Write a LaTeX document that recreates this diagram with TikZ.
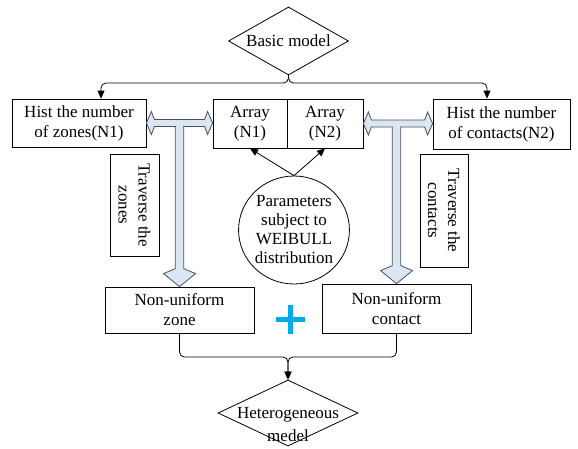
\documentclass[tikz,border=0pt]{standalone}
\usepackage{fontspec}
\setmainfont{Liberation Serif}
\usetikzlibrary{shapes.geometric,arrows.meta,calc}
\definecolor{arrfill}{RGB}{220,230,242}
\definecolor{arrline}{RGB}{70,80,95}
\definecolor{plusblue}{RGB}{0,170,235}
\begin{document}
\begin{tikzpicture}[x=1pt,y=-1pt,
  box/.style={draw, line width=0.8pt, inner sep=0pt, align=center, font=\fontsize{17}{20}\selectfont},
  dia/.style={draw, shape=diamond, line width=0.8pt, inner sep=0pt},
  txt/.style={inner sep=0pt, align=center, font=\fontsize{17}{20}\selectfont},
  conn/.style={draw, line width=0.8pt, rounded corners=5pt},
  tip/.style={-{Triangle[length=8pt,width=7pt]}},
  hollow/.style={fill=arrfill, draw=arrline, line width=0.8pt, line join=miter}]
\useasboundingbox (0,0) rectangle (578,448);
\clip (0,0) rectangle (578,448);

% nodes
\node[dia, minimum width=120pt, minimum height=68pt] (basic) at (288.5,41) {};
\node[txt] (basictxt) at (basic) {Basic model};
\node[box, minimum width=134pt, minimum height=48pt] (lbox) at (79,123) {Hist the number\\of zones(N1)};
\node[box, minimum width=74pt, minimum height=49pt] (arr1) at (250,123.5) {Array\\(N1)};
\node[box, minimum width=76pt, minimum height=49pt] (arr2) at (325,123.5) {Array\\(N2)};
\node[box, minimum width=137pt, minimum height=50pt] (rbox) at (501.5,124) {Hist the number\\of contacts(N2)};
\node[box, rotate=-90, minimum width=102pt, minimum height=49pt] (trz) at (134.5,205) {Traverse the\\zones};
\node[box, rotate=-90, minimum width=113pt, minimum height=48pt] (trc) at (444,210.5) {Traverse the\\contacts};
\node[box, shape=ellipse, minimum width=102pt, minimum height=108pt, font=\fontsize{17}{19}\selectfont] (circ) at (294,230) {Parameters\\subject to\\WEIBULL\\distribution};
\node[box, minimum width=149pt, minimum height=46pt] (zone) at (179.5,310) {Non-uniform\\zone};
\node[box, minimum width=149pt, minimum height=49pt] (contact) at (396.5,308.5) {Non-uniform\\contact};
\node[dia, minimum width=140pt, minimum height=66pt] (het) at (288,413) {};
\node[txt, font=\fontsize{17}{23}\selectfont] (hettxt) at (288,425) {Heterogeneous\\medel};
\coordinate (plus) at (290,319);

% top connectors
\coordinate (cl) at (101,83);
\coordinate (cr) at (487,83);
\draw[conn, tip] (basic.south) |- (cl) -- (cl |- lbox.north);
\draw[conn, tip] (basic.south) |- (cr) -- (cr |- rbox.north);

% bottom connectors
\coordinate (cb) at (288,357);
\draw[conn, tip] (zone.south) |- (cb) -- (het.north);
\draw[conn, tip] (contact.south) |- (cb) -- (het.north);

% circle arrows
\draw[line width=0.8pt, tip] (circ.north) -- (arr1.south);
\draw[line width=0.8pt, tip] (circ.north) -- (arr2.south);

% hollow vertical arrows
\filldraw[hollow] let \p1=(lbox.east), \p2=(zone.north) in
  (\x2-4.2pt,\y1) -- (\x2-4.2pt,\y2+18pt) -- (\x2-16pt,\y2+13pt) -- (\x2,\y2)
  -- (\x2+16pt,\y2+13pt) -- (\x2+4.2pt,\y2+18pt) -- (\x2+4.2pt,\y1) -- cycle;
\filldraw[hollow] let \p1=(rbox.west), \p2=(contact.north) in
  (\x2-4.2pt,\y1) -- (\x2-4.2pt,\y2+18pt) -- (\x2-16pt,\y2+13pt) -- (\x2,\y2)
  -- (\x2+16pt,\y2+13pt) -- (\x2+4.2pt,\y2+18pt) -- (\x2+4.2pt,\y1) -- cycle;

% hollow double arrows
\filldraw[hollow] let \p1=(lbox.east), \p2=(arr1.west) in
  (\x1,\y1) -- (\x1+5pt,\y1+11.5pt) -- (\x1+8pt,\y1+3.5pt) -- (\x2-8pt,\y1+3.5pt)
  -- (\x2-5pt,\y1+11.5pt) -- (\x2,\y1) -- (\x2-5pt,\y1-11.5pt) -- (\x2-8pt,\y1-3.5pt)
  -- (\x1+8pt,\y1-3.5pt) -- (\x1+5pt,\y1-11.5pt) -- cycle;
\filldraw[hollow] let \p1=(arr2.east), \p2=(rbox.west) in
  (\x1,\y1) -- (\x1+5pt,\y1+11.5pt) -- (\x1+8pt,\y1+3.5pt) -- (\x2-8pt,\y1+3.5pt)
  -- (\x2-5pt,\y1+11.5pt) -- (\x2,\y1) -- (\x2-5pt,\y1-11.5pt) -- (\x2-8pt,\y1-3.5pt)
  -- (\x1+8pt,\y1-3.5pt) -- (\x1+5pt,\y1-11.5pt) -- cycle;

% merge T junctions
\fill[arrfill] let \p1=(lbox.east), \p2=(zone.north) in
  (\x2-3.8pt,\y1-2pt) rectangle (\x2+3.8pt,\y1-4.6pt);
\fill[arrfill] let \p1=(arr2.east), \p2=(contact.north) in
  (\x2-3.8pt,\y1-2pt) rectangle (\x2+3.8pt,\y1-4.6pt);

% plus sign
\draw[plusblue, line width=5pt] ($(plus)+(-14.5,0)$) -- ($(plus)+(14.5,0)$)
  ($(plus)+(0,-14.5)$) -- ($(plus)+(0,14.5)$);
\end{tikzpicture}
\end{document}
